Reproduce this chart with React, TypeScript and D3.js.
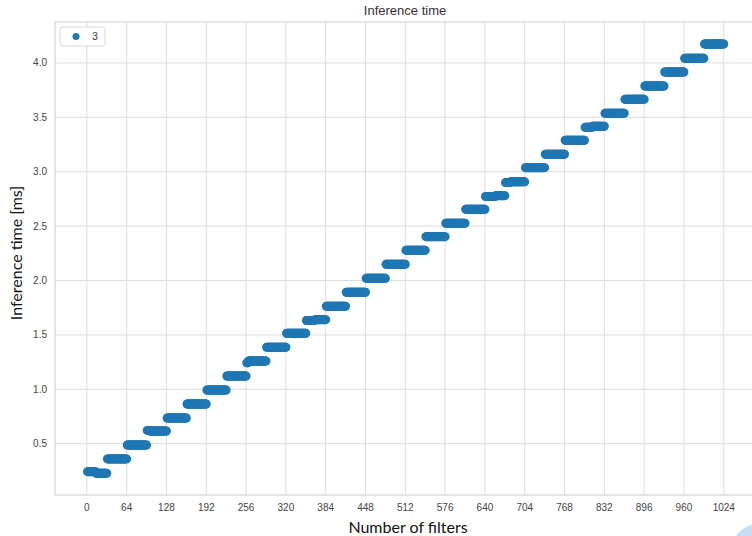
import React, { useEffect, useRef } from 'react'
import * as d3 from 'd3'

// step levels: [first filter, last filter, ms]
const steps: [number, number, number][] = [
  [1, 14, 0.243], [15, 32, 0.228], [33, 64, 0.36], [65, 96, 0.488],
  [97, 100, 0.622], [101, 128, 0.617], [129, 160, 0.736], [161, 192, 0.865],
  [193, 224, 0.994], [225, 256, 1.122], [257, 259, 1.243], [260, 288, 1.26],
  [289, 320, 1.386], [321, 352, 1.515], [353, 366, 1.632], [367, 384, 1.64],
  [385, 416, 1.763], [417, 448, 1.892], [449, 480, 2.02], [481, 512, 2.149],
  [513, 544, 2.278], [545, 576, 2.403], [577, 608, 2.526], [609, 640, 2.654],
  [641, 656, 2.772], [657, 672, 2.78], [673, 680, 2.9], [681, 704, 2.907],
  [705, 736, 3.037], [737, 768, 3.16], [769, 800, 3.289], [801, 812, 3.408],
  [813, 832, 3.418], [833, 864, 3.537], [865, 896, 3.665], [897, 928, 3.788],
  [929, 960, 3.916], [961, 992, 4.042], [993, 1024, 4.174],
]
const xTicks = [0, 64, 128, 192, 256, 320, 384, 448, 512, 576, 640, 704, 768, 832, 896, 960, 1024]
const yTicks = [0.5, 1.0, 1.5, 2.0, 2.5, 3.0, 3.5, 4.0]
const seriesName = '3'

const W = 752
const H = 536
const margin = { left: 55, top: 22, right: -3, bottom: 41 }

const App = () => {
  const ref = useRef<SVGSVGElement>(null)

  useEffect(() => {
    const svg = d3.select(ref.current)
    svg.selectAll('*').remove()

    const points: { n: number; t: number }[] = []
    steps.forEach(([a, b, t]) => {
      for (let n = a; n <= b; n++) points.push({ n, t })
    })

    const x = d3.scaleLinear().domain([-51.2, 1074.2]).range([margin.left, W - margin.right])
    const y = d3.scaleLinear().domain([0.0285, 4.376]).range([H - margin.bottom, margin.top])

    const g = svg.append('g')
    const grid = '#dcdcdc'

    g.selectAll('line.gx').data(xTicks).join('line')
      .attr('x1', d => x(d)).attr('x2', d => x(d))
      .attr('y1', margin.top).attr('y2', H - margin.bottom)
      .attr('stroke', grid).attr('stroke-width', 1)
    g.selectAll('line.gy').data(yTicks).join('line')
      .attr('y1', d => y(d)).attr('y2', d => y(d))
      .attr('x1', margin.left).attr('x2', W - margin.right)
      .attr('stroke', grid).attr('stroke-width', 1)

    g.append('rect')
      .attr('x', margin.left).attr('y', margin.top)
      .attr('width', W - margin.right - margin.left)
      .attr('height', H - margin.bottom - margin.top)
      .attr('fill', 'none').attr('stroke', '#d4d4d4').attr('stroke-width', 1.2)

    g.append('g').selectAll('circle').data(points).join('circle')
      .attr('cx', d => x(d.n)).attr('cy', d => y(d.t))
      .attr('r', 4.5).attr('fill', '#1f77b4')

    const tickFont = '"Liberation Sans", Arial, sans-serif'
    g.selectAll('text.xt').data(xTicks).join('text')
      .attr('x', d => x(d)).attr('y', H - margin.bottom + 16)
      .attr('text-anchor', 'middle').attr('font-family', tickFont)
      .attr('font-size', 10).attr('fill', '#444').text(d => d)
    g.selectAll('text.yt').data(yTicks).join('text')
      .attr('x', margin.left - 8).attr('y', d => y(d)).attr('dy', '0.35em')
      .attr('text-anchor', 'end').attr('font-family', tickFont)
      .attr('font-size', 10).attr('fill', '#444').text(d => d3.format('.1f')(d))

    g.append('text')
      .attr('x', (margin.left + W - margin.right) / 2).attr('y', 15)
      .attr('text-anchor', 'middle').attr('font-family', tickFont)
      .attr('font-size', 13).attr('fill', '#333').text('Inference time')

    g.append('text')
      .attr('x', 408).attr('y', 533)
      .attr('text-anchor', 'middle').attr('font-family', 'Lato, sans-serif')
      .attr('font-size', 16).attr('fill', '#111').text('Number of filters')

    g.append('text')
      .attr('transform', `translate(22, 253) rotate(-90)`)
      .attr('text-anchor', 'middle').attr('font-family', 'Lato, sans-serif')
      .attr('font-size', 16).attr('fill', '#111').text('Inference time [ms]')

    // legend
    const lg = g.append('g').attr('transform', 'translate(60, 27)')
    lg.append('rect').attr('width', 45).attr('height', 19).attr('rx', 3)
      .attr('fill', '#fff').attr('stroke', '#d8d8d8')
    lg.append('circle').attr('cx', 16).attr('cy', 9.5).attr('r', 3.5).attr('fill', '#1f77b4')
    lg.append('text').attr('x', 35).attr('y', 9.5).attr('dy', '0.35em')
      .attr('font-family', tickFont).attr('font-size', 10).attr('fill', '#333')
      .attr('text-anchor', 'middle').text(seriesName)

    // stray blue badge in the bottom-right corner of the screenshot
    g.append('circle').attr('cx', 758).attr('cy', 550).attr('r', 26)
      .attr('fill', '#c9dcf2')
  }, [])

  return (
    <svg ref={ref} width={W} height={H}
      style={{ position: 'absolute', left: 0, top: 0, background: '#fff' }} />
  )
}

export default App
